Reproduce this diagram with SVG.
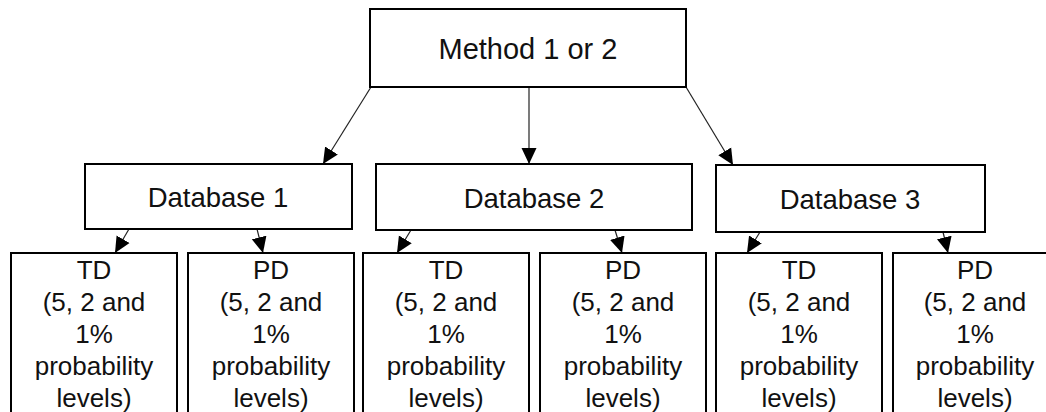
<svg xmlns="http://www.w3.org/2000/svg" width="1046" height="412" viewBox="0 0 1046 412">
  <style>
    .box { fill: #ffffff; stroke: #000000; stroke-width: 2; }
    .lbl { font-family: "Liberation Sans", Arial, sans-serif; fill: #111111; text-anchor: middle; }
    .top { font-size: 29px; }
    .db { font-size: 27.5px; }
    .leaf { font-size: 26px; }
    .edge { stroke: #222222; stroke-width: 1.2; fill: none; marker-end: url(#head); }
  </style>
  <defs>
    <marker id="head" viewBox="0 0 16 16" refX="16" refY="8" markerWidth="16" markerHeight="16" markerUnits="userSpaceOnUse" orient="auto">
      <path d="M0,0.5 L16,8 L0,15.5 z" fill="#000000"/>
    </marker>
  </defs>

  <rect width="1046" height="412" fill="#ffffff"/>

  <g id="connectors">
    <line class="edge" x1="371" y1="87" x2="323" y2="164"/>
    <line class="edge" x1="529" y1="87" x2="529" y2="164"/>
    <line class="edge" x1="686" y1="87" x2="733" y2="165"/>

    <line class="edge" x1="129" y1="229" x2="115" y2="253"/>
    <line class="edge" x1="257" y1="229" x2="263" y2="253"/>
    <line class="edge" x1="411" y1="230" x2="397" y2="253"/>
    <line class="edge" x1="615" y1="230" x2="622" y2="253"/>
    <line class="edge" x1="760" y1="232" x2="747" y2="253"/>
    <line class="edge" x1="943" y1="232" x2="948" y2="253"/>
  </g>

  <g id="method">
    <rect class="box" x="370" y="9" width="316" height="78"/>
    <text class="lbl top" x="528" y="59">Method 1 or 2</text>
  </g>

  <g id="database-1">
    <rect class="box" x="85" y="164" width="267" height="65"/>
    <text class="lbl db" x="218" y="207">Database 1</text>
  </g>
  <g id="database-2">
    <rect class="box" x="376" y="164" width="316" height="66"/>
    <text class="lbl db" x="534" y="208">Database 2</text>
  </g>
  <g id="database-3">
    <rect class="box" x="716" y="165" width="269" height="67"/>
    <text class="lbl db" x="850" y="209">Database 3</text>
  </g>

  <g id="db1-td">
    <rect class="box" x="11" y="253" width="166" height="200"/>
    <text class="lbl leaf" x="94" y="279">TD<tspan x="94" y="311">(5, 2 and</tspan><tspan x="94" y="343">1%</tspan><tspan x="94" y="375">probability</tspan><tspan x="94" y="407">levels)</tspan></text>
  </g>
  <g id="db1-pd">
    <rect class="box" x="188" y="253" width="166" height="200"/>
    <text class="lbl leaf" x="271" y="279">PD<tspan x="271" y="311">(5, 2 and</tspan><tspan x="271" y="343">1%</tspan><tspan x="271" y="375">probability</tspan><tspan x="271" y="407">levels)</tspan></text>
  </g>
  <g id="db2-td">
    <rect class="box" x="363" y="253" width="166" height="200"/>
    <text class="lbl leaf" x="446" y="279">TD<tspan x="446" y="311">(5, 2 and</tspan><tspan x="446" y="343">1%</tspan><tspan x="446" y="375">probability</tspan><tspan x="446" y="407">levels)</tspan></text>
  </g>
  <g id="db2-pd">
    <rect class="box" x="540" y="253" width="166" height="200"/>
    <text class="lbl leaf" x="623" y="279">PD<tspan x="623" y="311">(5, 2 and</tspan><tspan x="623" y="343">1%</tspan><tspan x="623" y="375">probability</tspan><tspan x="623" y="407">levels)</tspan></text>
  </g>
  <g id="db3-td">
    <rect class="box" x="716" y="253" width="166" height="200"/>
    <text class="lbl leaf" x="799" y="279">TD<tspan x="799" y="311">(5, 2 and</tspan><tspan x="799" y="343">1%</tspan><tspan x="799" y="375">probability</tspan><tspan x="799" y="407">levels)</tspan></text>
  </g>
  <g id="db3-pd">
    <rect class="box" x="893" y="253" width="166" height="200"/>
    <text class="lbl leaf" x="975" y="279">PD<tspan x="975" y="311">(5, 2 and</tspan><tspan x="975" y="343">1%</tspan><tspan x="975" y="375">probability</tspan><tspan x="975" y="407">levels)</tspan></text>
  </g>
</svg>
